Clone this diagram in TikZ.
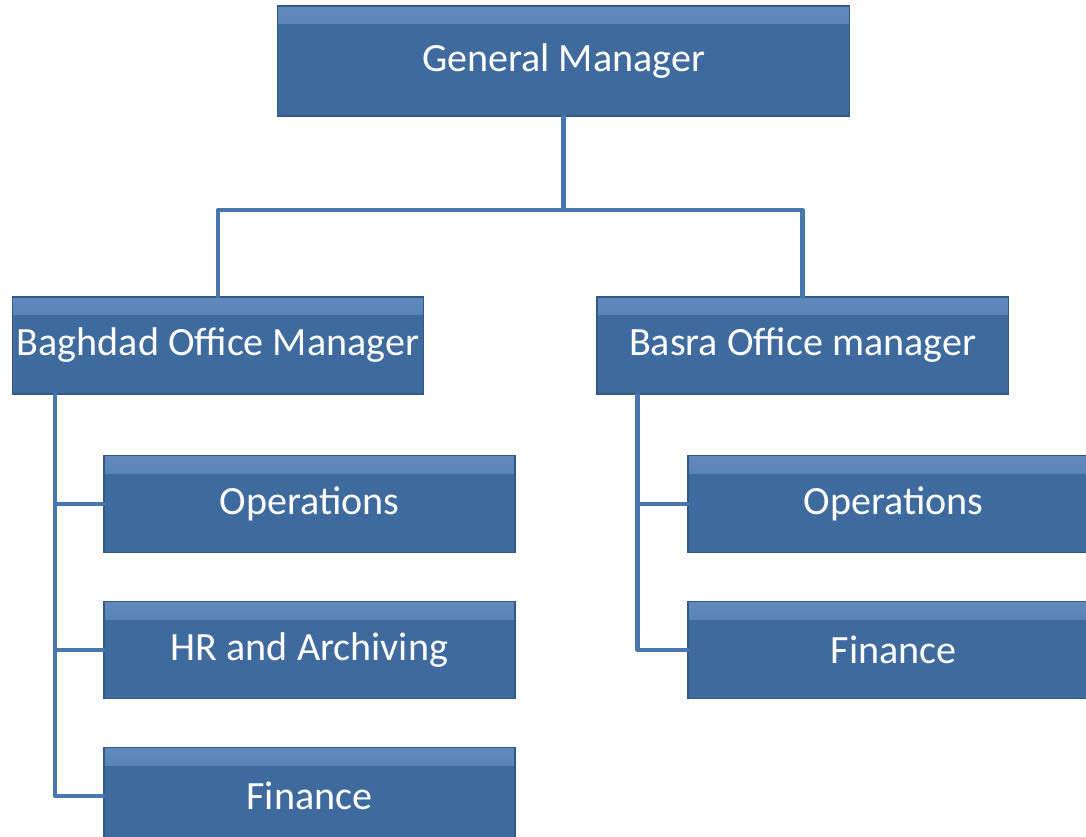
\documentclass[tikz,border=0pt]{standalone}
\usepackage{fontspec}
\setmainfont{Carlito}
\definecolor{boxblue}{RGB}{63,106,157}
\definecolor{boxedge}{RGB}{52,88,132}
\definecolor{boxlight}{RGB}{96,138,190}
\definecolor{linkblue}{RGB}{74,118,175}

\begin{document}
\begin{tikzpicture}[x=0.025cm, y=-0.025cm,
    unitbox/.style={draw=boxedge, line width=0.8pt, fill=boxblue, text=white, font=\fontsize{28.5}{32}\selectfont,
        minimum width=10.275cm, minimum height=2.425cm, inner sep=0pt,
        path picture={\fill[top color=boxlight, bottom color=boxblue]
            (path picture bounding box.north west) rectangle ([yshift=-0.45cm]path picture bounding box.north east);}},
    orgline/.style={draw=linkblue, line width=3pt, line cap=round, line join=round}]
    \useasboundingbox (0,0) rectangle (1086,836);

    \node [unitbox] (gm)   at (563.5,61)   [minimum width=14.275cm, minimum height=2.75cm] {General Manager};
    \node [unitbox] (bag)  at (218,345.5)  {Baghdad Office Manager};
    \node [unitbox] (bas)  at (802.5,345.5) {Basra Office manager};
    \node [unitbox] (bagops) at (309.5,504) {Operations};
    \node [unitbox] (baghr)  at (309.5,650) {HR and Archiving};
    \node [unitbox] (bagfin) at (309.5,796) {Finance};
    \node [unitbox] (basops) at (893.5,504) {Operations};
    \node [unitbox] (basfin) at (893.5,650) {Finance};

    \coordinate (gmsplit) at (563.5,210);

    \begin{scope}[on background layer/.try]
    \draw [orgline] (gm.south) -- (gmsplit) -| (bag.north);
    \draw [orgline] (gmsplit) -| (bas.north);
    \draw [orgline] ([xshift=1.075cm]bag.south west) |- (bagfin.west);
    \draw [orgline] ([xshift=1.075cm]bag.south west |- bagops.west) -- (bagops.west);
    \draw [orgline] ([xshift=1.075cm]bag.south west |- baghr.west) -- (baghr.west);
    \draw [orgline] ([xshift=1.025cm]bas.south west) |- (basfin.west);
    \draw [orgline] ([xshift=1.025cm]bas.south west |- basops.west) -- (basops.west);
    \end{scope}
\end{tikzpicture}
\end{document}
